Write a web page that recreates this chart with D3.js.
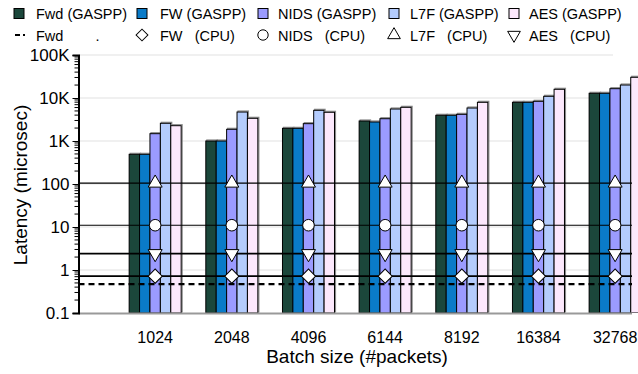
<!DOCTYPE html>
<html><head><meta charset="utf-8">
<script src="https://cdn.jsdelivr.net/npm/d3@7"></script>
<style>
body{margin:0;background:#fff;}
text{font-family:"Liberation Sans",Arial,Helvetica,sans-serif;fill:#000;}
</style></head>
<body>
<svg id="chart" width="638" height="374"></svg>
<script>
// ---- data ----
const categories = ["1024","2048","4096","6144","8192","16384","32768"];
const fwdGaspp  = [490, 1000, 1970, 2920, 3960, 7930, 12860];
const fwGaspp   = [490, 1000, 1970, 2770, 3960, 7930, 12860];
const nidsGaspp = [1480, 1870, 2530, 3300, 4170, 8370, 16470];
const l7fGaspp  = [2580, 4720, 5170, 5550, 5850, 10950, 20050];
const aesGaspp  = [2270, 3370, 4650, 6070, 7930, 15930, 30300];
const fwdCpu  = [0.47, 0.47, 0.47, 0.47, 0.47, 0.47, 0.47];
const fwCpu   = [0.72, 0.72, 0.72, 0.72, 0.72, 0.72, 0.72];
const nidsCpu = [11, 11, 11, 11, 11, 11, 11];
const l7fCpu  = [105, 105, 105, 105, 105, 105, 105];
const aesCpu  = [2.4, 2.4, 2.4, 2.4, 2.4, 2.4, 2.4];
const yTickValues = [0.1, 1, 10, 100, 1000, 10000, 100000];
const yTickLabels = ["0.1","1","10","100","1K","10K","100K"];
const barSeries = [
  {name:"Fwd (GASPP)",  values:fwdGaspp,  color:"#1b473b"},
  {name:"FW (GASPP)",   values:fwGaspp,   color:"#0a7bc8"},
  {name:"NIDS (GASPP)", values:nidsGaspp, color:"#9b9bff"},
  {name:"L7F (GASPP)",  values:l7fGaspp,  color:"#b4ccfd"},
  {name:"AES (GASPP)",  values:aesGaspp,  color:"#fce8fc"}
];
const cpuSeries = [
  {name:"Fwd", label:"Fwd        .", values:fwdCpu, symbol:null, dash:"6,4", width:2.2},
  {name:"FW", label:"FW   (CPU)", values:fwCpu, symbol:"diamond", width:1.6},
  {name:"NIDS", label:"NIDS   (CPU)", values:nidsCpu, symbol:"circle", width:1.1},
  {name:"L7F", label:"L7F   (CPU)", values:l7fCpu, symbol:"up", width:1.1},
  {name:"AES", label:"AES   (CPU)", values:aesCpu, symbol:"down", width:1.6}
];

// ---- layout ----
const svg = d3.select("#chart");
const pL = 78.5, pR = 632, pT = 55, pB = 313;
const x = d3.scaleLinear().domain([-1, 6.22]).range([pL, pR]);
const y = d3.scaleLog().domain([0.1, 100000]).range([pB, pT]);
const barW = 0.1357;

svg.append("defs").append("clipPath").attr("id","clip")
  .append("rect").attr("x",pL).attr("y",0).attr("width",638-pL).attr("height",pB);

// grid
svg.append("g").selectAll("line").data(yTickValues.slice(1)).join("line")
  .attr("x1",pL).attr("x2",613).attr("y1",d=>y(d)).attr("y2",d=>y(d))
  .attr("stroke","#ebebeb").attr("stroke-width",1.5);

// bars
const bars = svg.append("g").attr("clip-path","url(#clip)");
barSeries.forEach((s,k)=>{
  const off = (k-2)*barW;
  const g = bars.append("g");
  g.selectAll("rect.sh").data(s.values).join("rect").attr("class","sh")
    .attr("x",(d,i)=>x(i+off-barW/2)+1).attr("y",d=>y(d)-1)
    .attr("width",x(barW)-x(0)).attr("height",d=>pB-y(d))
    .attr("fill","none").attr("stroke","#8a8a8a").attr("stroke-width",1.2);
  g.selectAll("rect.b").data(s.values).join("rect").attr("class","b")
    .attr("x",(d,i)=>x(i+off-barW/2)).attr("y",d=>y(d))
    .attr("width",x(barW)-x(0)).attr("height",d=>pB-y(d))
    .attr("fill",s.color).attr("stroke","#000").attr("stroke-width",1);
});

// bottom axis line
svg.append("line").attr("x1",pL).attr("x2",pR).attr("y1",pB+0.5).attr("y2",pB+0.5)
  .attr("stroke","#999").attr("stroke-width",2);

// CPU lines
const symbolFor = {
  diamond: d3.symbol().type(d3.symbolSquare).size(100),
  circle: d3.symbol().type(d3.symbolCircle).size(105),
  up: d3.symbol().type(d3.symbolTriangle).size(85),
  down: d3.symbol().type(d3.symbolTriangle).size(85)
};
const legSymbol = {
  diamond: d3.symbol().type(d3.symbolSquare).size(70),
  circle: d3.symbol().type(d3.symbolCircle).size(85),
  up: d3.symbol().type(d3.symbolTriangle).size(70),
  down: d3.symbol().type(d3.symbolTriangle).size(70)
};
const rot = {diamond:45, circle:0, up:0, down:180};
const lineGen = d3.line().x(d=>x(d[0])).y(d=>y(d[1]));
cpuSeries.forEach(s=>{
  const pts = [[-1, s.values[0]]].concat(s.values.map((v,i)=>[i,v]), [[6.22, s.values[s.values.length-1]]]);
  svg.append("path").attr("d",lineGen(pts)).attr("fill","none").attr("stroke","#000")
    .attr("stroke-width",s.width).attr("stroke-dasharray",s.dash||null);
});
cpuSeries.forEach(s=>{
  if(!s.symbol) return;
  svg.append("g").selectAll("path").data(s.values).join("path")
    .attr("d",symbolFor[s.symbol]())
    .attr("transform",(d,i)=>`translate(${x(i)},${y(d)}) rotate(${rot[s.symbol]})`)
    .attr("fill","#fff").attr("stroke","#000").attr("stroke-width",1);
});

// y axis
const yAxis = d3.axisLeft(y).tickValues(yTickValues).tickFormat((d,i)=>yTickLabels[i]).tickSize(6).tickPadding(3);
const ya = svg.append("g").attr("transform",`translate(${pL},0)`).call(yAxis);
ya.select(".domain").attr("stroke","#000").attr("stroke-width",2);
ya.selectAll(".tick line").attr("stroke","#000");
ya.selectAll(".tick text").style("font-size","17px").attr("font-family","Liberation Sans, Arial, sans-serif");
// minor ticks
const minor = [];
yTickValues.slice(0,-1).forEach(d=>{for(let m=2;m<10;m++) minor.push(d*m);});
svg.append("g").selectAll("line").data(minor).join("line")
  .attr("x1",pL-4).attr("x2",pL).attr("y1",d=>y(d)).attr("y2",d=>y(d))
  .attr("stroke","#000").attr("stroke-width",1);

// x labels
svg.append("g").selectAll("text").data(categories).join("text")
  .attr("x",(d,i)=>x(i)).attr("y",343).attr("text-anchor","middle")
  .style("font-size","16px").text(d=>d);

// titles
svg.append("text").attr("x",357).attr("y",363).attr("text-anchor","middle")
  .style("font-size","19px").text("Batch size (#packets)");
svg.append("text").attr("transform","translate(27,185) rotate(-90)").attr("text-anchor","middle")
  .style("font-size","19px").text("Latency (microsec)");

// legend
const legX = [14, 137, 258, 389, 509];
const legTextX = [36, 160, 278, 410, 529];
const leg = svg.append("g");
barSeries.forEach((s,k)=>{
  leg.append("rect").attr("x",legX[k]).attr("y",8.5).attr("width",10).attr("height",10)
    .attr("fill",s.color).attr("stroke","#000").attr("stroke-width",1);
  leg.append("text").attr("x",legTextX[k]).attr("y",18.5).style("font-size","14.5px").text(s.name);
});
cpuSeries.forEach((s,k)=>{
  const cx = legX[k]+5;
  if(s.symbol){
    leg.append("path").attr("d",legSymbol[s.symbol]())
      .attr("transform",`translate(${cx},35) rotate(${rot[s.symbol]})`)
      .attr("fill","#fff").attr("stroke","#000").attr("stroke-width",1);
  } else {
    leg.append("line").attr("x1",legX[k]+1).attr("x2",legX[k]+6).attr("y1",35).attr("y2",35)
      .attr("stroke","#000").attr("stroke-width",2);
    leg.append("line").attr("x1",legX[k]+9).attr("x2",legX[k]+11).attr("y1",35).attr("y2",35)
      .attr("stroke","#000").attr("stroke-width",2);
  }
  leg.append("text").attr("x",legTextX[k]).attr("y",40.5).style("font-size","14.5px")
    .attr("xml:space","preserve").style("white-space","pre").text(s.label);
});
</script>
</body></html>
